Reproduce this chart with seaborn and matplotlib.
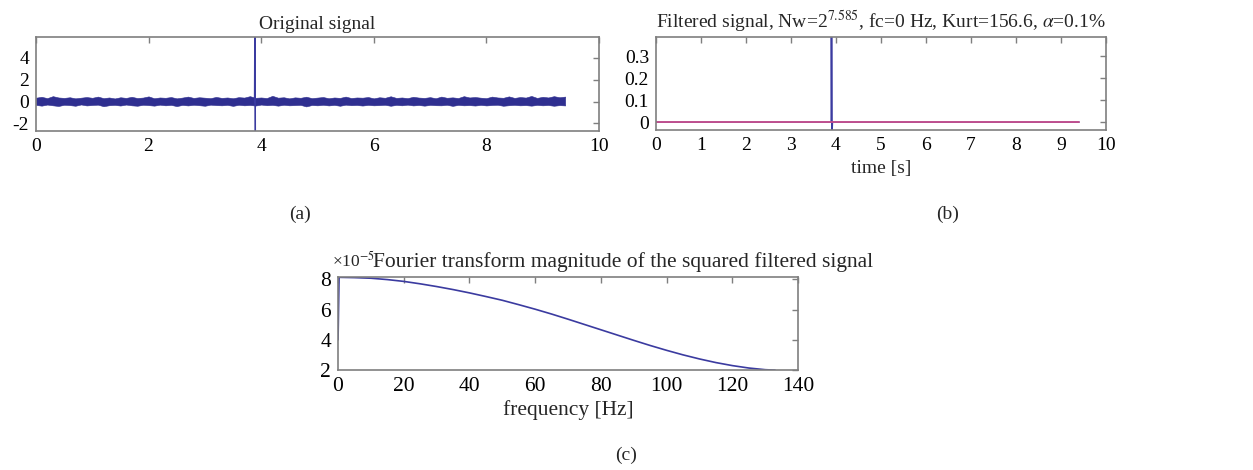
import numpy as np
import pandas as pd
import matplotlib
matplotlib.use("Agg")
import matplotlib.pyplot as plt
import seaborn as sns

# ---------------- data ----------------
# (a) original signal: noise band envelope sampled every 0.1 s (0 .. 9.4 s) + impulse
t_env = [round(0.1 * i, 1) for i in range(95)]
noise_upper = [0.36, 0.44, 0.32, 0.50, 0.38, 0.34, 0.40, 0.30, 0.36, 0.42,
               0.35, 0.46, 0.32, 0.38, 0.29, 0.40, 0.34, 0.44, 0.33, 0.37,
               0.48, 0.31, 0.38, 0.35, 0.42, 0.30, 0.37, 0.46, 0.34, 0.40,
               0.36, 0.32, 0.43, 0.34, 0.38, 0.31, 0.41, 0.37, 0.50, 0.35,
               0.38, 0.33, 0.53, 0.36, 0.40, 0.30, 0.39, 0.35, 0.45, 0.32,
               0.37, 0.42, 0.31, 0.38, 0.34, 0.46, 0.33, 0.38, 0.36, 0.42,
               0.30, 0.40, 0.35, 0.49, 0.34, 0.38, 0.32, 0.44, 0.37, 0.34,
               0.41, 0.31, 0.46, 0.35, 0.39, 0.33, 0.50, 0.38, 0.42, 0.36,
               0.32, 0.46, 0.38, 0.35, 0.48, 0.34, 0.42, 0.37, 0.52, 0.34,
               0.44, 0.38, 0.50, 0.40, 0.46]
noise_lower = [-0.30, -0.37, -0.27, -0.34, -0.40, -0.29, -0.32, -0.38, -0.26, -0.35,
               -0.31, -0.28, -0.42, -0.33, -0.30, -0.36, -0.27, -0.34, -0.38, -0.29,
               -0.32, -0.37, -0.28, -0.34, -0.30, -0.41, -0.30, -0.35, -0.29, -0.33,
               -0.38, -0.28, -0.32, -0.34, -0.30, -0.39, -0.29, -0.34, -0.31, -0.36,
               -0.27, -0.33, -0.30, -0.37, -0.29, -0.34, -0.32, -0.30, -0.44, -0.31,
               -0.34, -0.29, -0.35, -0.30, -0.38, -0.28, -0.33, -0.31, -0.36, -0.30,
               -0.34, -0.32, -0.29, -0.38, -0.30, -0.34, -0.28, -0.35, -0.31, -0.37,
               -0.30, -0.33, -0.34, -0.29, -0.39, -0.30, -0.34, -0.32, -0.36, -0.30,
               -0.35, -0.31, -0.29, -0.38, -0.33, -0.30, -0.34, -0.32, -0.37, -0.30,
               -0.34, -0.31, -0.38, -0.32, -0.35]
impulse_t = [3.885, 3.890, 3.895]
impulse_a = [0.0, 7.0, -3.5]

# (b) filtered signal (blue) and threshold line (red)
filt_t = [0.0, 3.895, 3.900, 3.910, 3.920, 9.40]
filt_v = [0.0, 0.0, 0.50, -0.05, 0.0, 0.0]
thr_t = [0.0, 9.40]
thr_v = [0.0, 0.0]

# (c) Fourier transform magnitude (x1e-5)
freq = [0, 0.3, 5, 10, 15, 20, 25, 30, 35, 40, 45, 50, 55, 60, 65, 70, 75, 80,
        85, 90, 95, 100, 105, 110, 115, 120, 125, 130, 133]
mag = [4.0, 8.13, 8.11, 8.07, 7.98, 7.86, 7.70, 7.52, 7.32, 7.10, 6.86, 6.61,
       6.32, 6.02, 5.70, 5.36, 5.01, 4.66, 4.31, 3.96, 3.62, 3.30, 3.00, 2.73,
       2.49, 2.29, 2.13, 2.02, 1.99]

captions = ["(a)", "(b)", "(c)"]

# ---------------- style ----------------
sns.set_style("white")
plt.rcParams['font.family'] = ['Liberation Serif', 'DejaVu Serif']
plt.rcParams['mathtext.fontset'] = 'stix'
plt.rcParams['axes.unicode_minus'] = False

FS_TICK = 14
FS_TITLE = 14
FS_C = 15.5
EDGE = "#7f7f7f"
BLUE = "#3b3ba0"
NOISE = "#2f2f90"
RED = "#d2508a"

fig = plt.figure(figsize=(12.53, 4.70), dpi=100)
axA = fig.add_axes([0.0287, 0.721, 0.4493, 0.200])
axB = fig.add_axes([0.5235, 0.7234, 0.3592, 0.1976])
axC = fig.add_axes([0.2698, 0.2128, 0.3671, 0.1978])


def style(ax, fs):
    for s in ax.spines.values():
        s.set_color(EDGE)
        s.set_linewidth(1.2)
    ax.tick_params(direction="in", length=4, width=1, color=EDGE,
                   top=True, right=True, labelsize=fs, labelcolor="black",
                   pad=5)


# (a)
axA.fill_between(t_env, noise_lower, noise_upper, color=NOISE, linewidth=0.4,
                 edgecolor=NOISE)
sns.lineplot(x=impulse_t, y=impulse_a, ax=axA, color=BLUE, linewidth=1.2,
             sort=False, estimator=None)
axA.set_xlim(0, 10)
axA.set_ylim(-2.7, 5.9)
axA.set_xticks([0, 2, 4, 6, 8, 10])
axA.set_yticks([-2, 0, 2, 4])
axA.set_title("Original signal", fontsize=FS_TITLE, pad=6)
style(axA, FS_TICK)

# (b)
sns.lineplot(x=filt_t, y=filt_v, ax=axB, color=BLUE, linewidth=1.2,
             sort=False, estimator=None)
sns.lineplot(x=thr_t, y=thr_v, ax=axB, color=RED, linewidth=1.2,
             sort=False, estimator=None)
axB.set_xlim(0, 10)
axB.set_ylim(-0.036, 0.386)
axB.set_xticks(range(0, 11))
axB.set_yticks([0, 0.1, 0.2, 0.3])
axB.set_yticklabels(["0", "0.1", "0.2", "0.3"])
axB.set_title(r"Filtered signal, Nw=2$^{7.585}$, fc=0 Hz, Kurt=156.6, $\alpha$=0.1%",
              fontsize=FS_TITLE, pad=6)
axB.set_xlabel("time [s]", fontsize=FS_TICK, labelpad=4)
style(axB, FS_TICK)

# (c)
sns.lineplot(x=freq, y=mag, ax=axC, color=BLUE, linewidth=1.2,
             sort=False, estimator=None)
axC.set_xlim(0, 140)
axC.set_ylim(2, 8.15)
axC.set_xticks(range(0, 141, 20))
axC.set_yticks([2, 4, 6, 8])
axC.set_xlabel("frequency [Hz]", fontsize=FS_C, labelpad=3)
axC.text(-0.013, 1.11, r"×10$^{-5}$", transform=axC.transAxes,
         fontsize=12.5, ha="left", va="baseline")
axC.text(0.075, 1.11, "Fourier transform magnitude of the squared filtered signal",
         transform=axC.transAxes, fontsize=FS_C, ha="left", va="baseline")
style(axC, FS_C)

# captions
fig.text(300 / 1253, 1 - 214 / 470, captions[0], fontsize=FS_TICK, ha="center", va="center")
fig.text(948 / 1253, 1 - 214 / 470, captions[1], fontsize=FS_TICK, ha="center", va="center")
fig.text(626 / 1253, 1 - 455 / 470, captions[2], fontsize=FS_TICK, ha="center", va="center")

fig.savefig("out.png", dpi=100)
